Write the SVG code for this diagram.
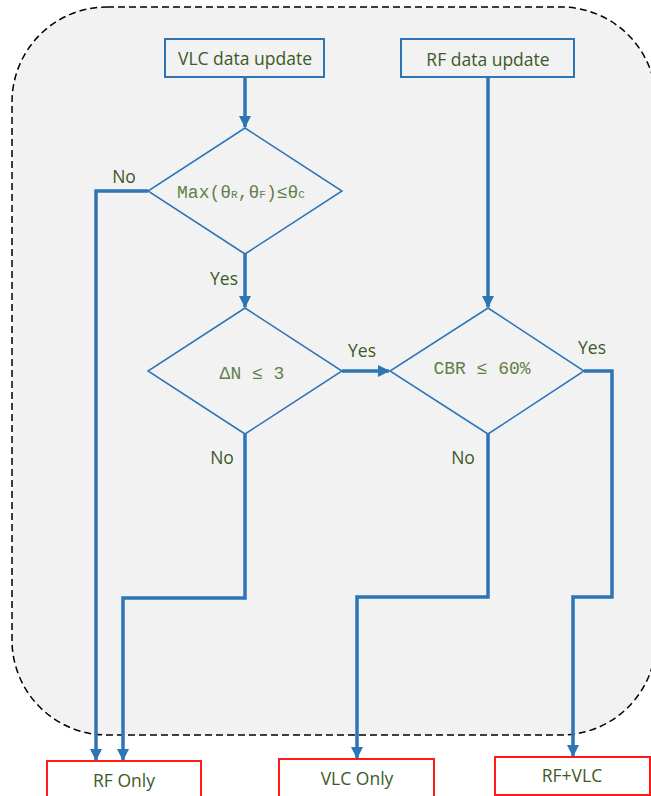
<svg xmlns="http://www.w3.org/2000/svg" width="651" height="796" viewBox="0 0 651 796">
<style>
.lbl{font-family:"Open Sans","Noto Sans",sans-serif;font-size:17.5px;fill:#3b5a26;text-anchor:middle}
.math{font-family:"Liberation Mono","DejaVu Sans Mono",monospace;font-size:18px;fill:#62804a;text-anchor:middle}
.sub{font-size:11px}
.box{fill:#f2f2f2;stroke:#2e75b6;stroke-width:2}
.out{fill:#ffffff;stroke:#ff1a1a;stroke-width:2}
.dia{fill:none;stroke:#2e75b6;stroke-width:1.5}
.con{fill:none;stroke:#2e75b6;stroke-width:3.5;marker-end:url(#ah)}
</style>
<defs>
<marker id="ah" markerUnits="userSpaceOnUse" markerWidth="12" markerHeight="14" viewBox="0 0 12 14" refX="11" refY="7" orient="auto">
<path d="M0,1 L12,7 L0,13 Z" fill="#2e75b6"/>
</marker>
</defs>
<rect x="0" y="0" width="651" height="796" fill="#ffffff"/>
<rect id="frame" x="12" y="7" width="644" height="728" rx="95" ry="95" fill="#f2f2f2" stroke="#000" stroke-width="1.5" stroke-dasharray="7,4"/>
<g id="connectors">
<path class="con" d="M245,77 V127"/>
<path class="con" d="M488,77 V307"/>
<path class="con" d="M148,191 H96 V760"/>
<path class="con" d="M245,254 V307"/>
<path class="con" d="M342,371 H389"/>
<path class="con" d="M245,434 V598 H123 V760"/>
<path class="con" d="M488,434 V597 H357 V758"/>
<path class="con" d="M584,371 H612 V597 H573 V756"/>
</g>
<g id="vlc-update"><rect class="box" x="165" y="39" width="159" height="38"/><text class="lbl" x="245" y="65">VLC data update</text></g>
<g id="rf-update"><rect class="box" x="401" y="39" width="173" height="38"/><text class="lbl" x="488" y="66">RF data update</text></g>
<g id="d1"><polygon class="dia" points="245,128 342,191 245,254 148,191"/><text class="math" x="241" y="198">Max(θ<tspan class="sub">R</tspan>,θ<tspan class="sub">F</tspan>)≤θ<tspan class="sub">C</tspan></text></g>
<g id="d2"><polygon class="dia" points="245,308 342,371 245,434 148,371"/><text class="math" x="252" y="379" xml:space="preserve">ΔN ≤ 3</text></g>
<g id="d3"><polygon class="dia" points="488,308 584,371 488,434 390,371"/><text class="math" x="482" y="374" xml:space="preserve">CBR ≤ 60%</text></g>
<g id="labels">
<text class="lbl" x="124" y="183">No</text>
<text class="lbl" x="224" y="285">Yes</text>
<text class="lbl" x="362" y="357">Yes</text>
<text class="lbl" x="592" y="354">Yes</text>
<text class="lbl" x="222" y="464">No</text>
<text class="lbl" x="463" y="464">No</text>
</g>
<g id="rf-only"><rect class="out" x="47" y="761" width="154" height="40"/><text class="lbl" x="124" y="787">RF Only</text></g>
<g id="vlc-only"><rect class="out" x="279" y="759" width="155" height="40"/><text class="lbl" x="357" y="785">VLC Only</text></g>
<g id="rf-vlc"><rect class="out" x="495" y="757" width="155" height="38"/><text class="lbl" x="572" y="782">RF+VLC</text></g>
</svg>
